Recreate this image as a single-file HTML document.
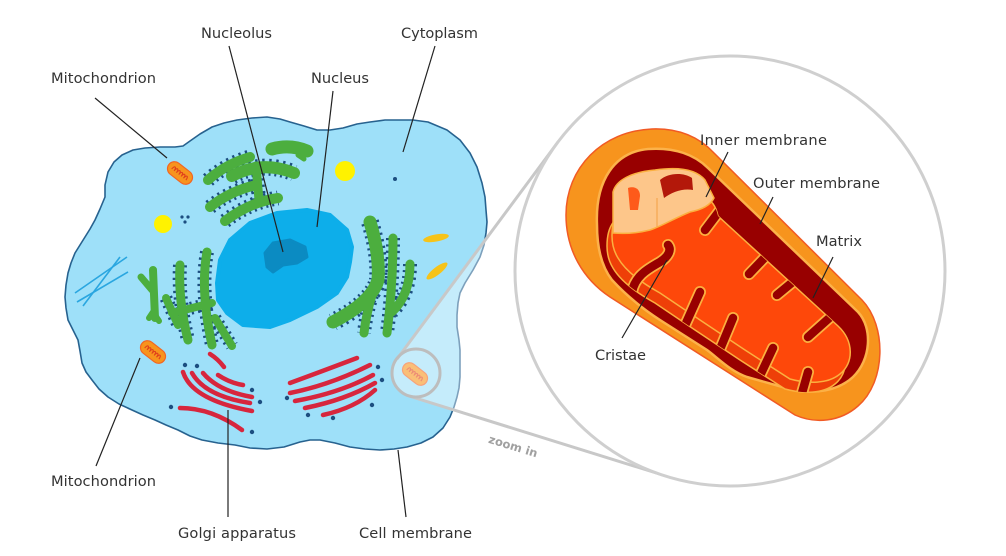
<!DOCTYPE html>
<html>
<head>
<meta charset="utf-8">
<style>
  html,body{margin:0;padding:0;background:#fff;}
  svg{display:block;}
  .lbl{font-family:"DejaVu Sans","Liberation Sans",sans-serif;font-size:14.6px;fill:#333;}
  .ln{stroke:#222;stroke-width:1.2;fill:none;}
</style>
</head>
<body>
<svg width="1006" height="556" viewBox="0 0 1006 556" xmlns="http://www.w3.org/2000/svg">
  <defs>
    <g id="sm">
      <rect x="-14" y="-7" width="28" height="14" rx="7" fill="#f7941d" stroke="#f26522" stroke-width="1.2"/>
      <path d="M-9,2 c0,-5 3,-5 3,0 c0,-5 3,-5 3,0 c0,-5 3,-5 3,0 c0,-5 3,-5 3,0 c0,-5 3,-5 3,0 c0,-5 3,-5 3,0" fill="none" stroke="#e0401c" stroke-width="1.1"/>
    </g>
    <clipPath id="mclip">
      <path transform="translate(-5,10)" d="M612,236 C612,215 620,205 640,200 L705,198 C712,200 716,207 718,216 L838,326 C854,341 854,363 840,374 C828,384 808,384 790,379 L745,350 L700,320 L660,293 C640,282 625,270 618,258 C613,250 612,243 612,236 Z"/>
      <path d="M612,236 C612,215 620,205 640,200 L705,198 C712,200 716,207 718,216 L838,326 C854,341 854,363 840,374 C828,384 808,384 790,379 L745,350 L700,320 L660,293 C640,282 625,270 618,258 C613,250 612,243 612,236 Z"/>
    </clipPath>
  </defs>

  <!-- Cell -->
  <path d="M105,197 L105,185 L108,172 L114,162 L122,155 L133,150 L145,148 L160,147 L175,147 L183,146 L190,141 L200,134 L212,127 L224,123 L237,120 L252,118 L267,117 L280,119 L290,122 L304,126 L317,130 L330,130 L343,128 L357,124 L370,122 L385,120 L400,120 L413,120 L428,122 L447,130 L460,140 L470,153 L477,167 L482,183 L485,197 L486,210 L487,222 L486,233 L484,245 L480,257 L473,270 L465,283 L460,293 L458,303 L457,315 L457,327 L459,340 L460,350 L460,363 L460,377 L459,388 L457,397 L454,407 L450,417 L443,428 L433,437 L421,443 L407,447 L394,449 L380,450 L365,449 L350,447 L335,443 L320,440 L310,440 L300,442 L284,447 L267,449 L250,448 L235,445 L218,443 L202,440 L190,436 L178,430 L166,425 L155,420 L143,415 L132,410 L119,404 L108,397 L99,389 L92,380 L86,372 L82,363 L80,351 L78,340 L73,330 L68,320 L66,308 L65,297 L66,285 L68,273 L71,263 L75,253 L80,245 L85,237 L90,229 L95,220 L100,209 Z" fill="#9ee0f9" stroke="#27628f" stroke-width="1.6" stroke-linejoin="round"/>

  <!-- Nucleus -->
  <path d="M218,300 L217,283 L220,260 L230,240 L250,223 L277,213 L307,210 L330,215 L347,230 L352,247 L350,262 L347,277 L337,293 L317,307 L290,320 L270,327 L243,325 L227,313 Z" fill="#0daeea" stroke="#0daeea" stroke-width="4" stroke-linejoin="round"/>
  <path d="M265,253 L273,243 L290,240 L305,247 L307,257 L297,263 L283,265 L273,272 L267,267 Z" fill="#0b8bc2" stroke="#0b8bc2" stroke-width="3" stroke-linejoin="round"/>

  <!-- Cytoskeleton -->
  <g stroke="#2aa6e0" stroke-width="1.6" fill="none">
    <line x1="75" y1="293" x2="127" y2="257"/>
    <line x1="77" y1="302" x2="128" y2="272"/>
    <line x1="83" y1="306" x2="120" y2="257"/>
  </g>

  <!-- Yellow vesicles -->
  <circle cx="345" cy="171" r="10" fill="#fff200"/>
  <circle cx="163" cy="224" r="9" fill="#fff200"/>
  <ellipse cx="436" cy="238" rx="13" ry="3.6" transform="rotate(-10 436 238)" fill="#f6c319"/>
  <ellipse cx="437" cy="271" rx="13" ry="3.8" transform="rotate(-38 437 271)" fill="#f6c319"/>

  <!-- small dots -->
  <g fill="#1c4e80">
    <circle cx="395" cy="179" r="2"/>
    <circle cx="182" cy="217" r="1.6"/><circle cx="188" cy="217" r="1.6"/><circle cx="185" cy="222" r="1.6"/>
  </g>

  <!-- Smooth ER -->
  <g stroke="#4cae3e" fill="none" stroke-linecap="round" stroke-linejoin="round">
    <path d="M272,149 Q290,144 307,151" stroke-width="13"/>
    <path d="M298,155 L304,159" stroke-width="5"/>
    <path d="M153,270 L155,318" stroke-width="8"/>
    <path d="M141,277 L152,290" stroke-width="7"/>
    <path d="M149,318 L153,312 L159,321" stroke-width="6"/>
  </g>

  <!-- Rough ER: dots -->
  <g stroke="#1c4e80" fill="none" stroke-dasharray="2.2 4.2">
    <path d="M208,180 Q226,164 250,157" stroke-width="15"/>
    <path d="M232,176 Q262,160 294,173" stroke-width="17"/>
    <path d="M210,207 Q232,190 257,185" stroke-width="15"/>
    <path d="M225,221 Q250,202 278,198" stroke-width="15"/>
    <path d="M256,166 L259,200" stroke-width="14"/>
    <path d="M180,265 Q178,300 188,340" stroke-width="14"/>
    <path d="M207,252 Q200,290 212,345" stroke-width="14"/>
    <path d="M166,298 L178,325" stroke-width="13"/>
    <path d="M172,313 L212,303" stroke-width="13"/>
    <path d="M215,318 L232,346" stroke-width="13"/>
    <path d="M370,222 Q380,255 378,280 Q372,302 333,322" stroke-width="18"/>
    <path d="M372,295 Q366,315 364,333" stroke-width="14"/>
    <path d="M393,238 Q393,285 387,333" stroke-width="14"/>
    <path d="M410,264 Q410,295 392,312" stroke-width="14"/>
  </g>
  <!-- Rough ER: green -->
  <g stroke="#4cae3e" fill="none" stroke-linecap="round" stroke-linejoin="round">
    <path d="M208,180 Q226,164 250,157" stroke-width="10"/>
    <path d="M232,176 Q262,160 294,173" stroke-width="12"/>
    <path d="M210,207 Q232,190 257,185" stroke-width="10"/>
    <path d="M225,221 Q250,202 278,198" stroke-width="10"/>
    <path d="M256,166 L259,200" stroke-width="9"/>
    <path d="M180,265 Q178,300 188,340" stroke-width="9"/>
    <path d="M207,252 Q200,290 212,345" stroke-width="9"/>
    <path d="M166,298 L178,325" stroke-width="8"/>
    <path d="M172,313 L212,303" stroke-width="8"/>
    <path d="M215,318 L232,346" stroke-width="8"/>
    <path d="M370,222 Q380,255 378,280 Q372,302 333,322" stroke-width="13"/>
    <path d="M372,295 Q366,315 364,333" stroke-width="9"/>
    <path d="M393,238 Q393,285 387,333" stroke-width="9"/>
    <path d="M410,264 Q410,295 392,312" stroke-width="9"/>
  </g>

  <!-- Golgi -->
  <g stroke="#d7263d" stroke-width="4.5" fill="none" stroke-linecap="round">
    <path d="M210,354 Q218,359 224,367"/>
    <path d="M183,372 Q192,400 252,411"/>
    <path d="M192,373 Q205,396 250,403"/>
    <path d="M203,373 Q218,391 252,397"/>
    <path d="M218,375 Q230,383 243,385"/>
    <path d="M180,408 Q212,408 242,430"/>
    <path d="M290,383 Q320,372 357,358"/>
    <path d="M290,393 Q330,385 370,365"/>
    <path d="M295,401 Q340,393 373,375"/>
    <path d="M305,408 Q345,400 375,383"/>
    <path d="M323,415 Q355,408 375,390"/>
  </g>
  <g fill="#1c4e80">
    <circle cx="185" cy="365" r="2.2"/><circle cx="197" cy="366" r="2.2"/>
    <circle cx="252" cy="390" r="2.2"/><circle cx="260" cy="402" r="2.2"/>
    <circle cx="252" cy="432" r="2.2"/><circle cx="171" cy="407" r="2.2"/>
    <circle cx="287" cy="398" r="2.2"/><circle cx="308" cy="415" r="2.2"/>
    <circle cx="333" cy="418" r="2.2"/><circle cx="378" cy="367" r="2.2"/>
    <circle cx="382" cy="380" r="2.2"/><circle cx="372" cy="405" r="2.2"/>
  </g>

  <!-- Small mitochondria -->
  <use href="#sm" transform="translate(180,173) rotate(38)"/>
  <use href="#sm" transform="translate(153,352) rotate(38)"/>
  <use href="#sm" transform="translate(415,374) rotate(38)"/>

  <!-- Zoom cone overlay -->
  <path d="M397,359 L558,142 L666,476 L409,396 A24,24 0 0 1 397,359 Z" fill="#fff" fill-opacity="0.4"/>
  <line x1="397" y1="359" x2="558" y2="142" stroke="#c8c8c8" stroke-width="3"/>
  <line x1="409" y1="396" x2="666" y2="476" stroke="#c8c8c8" stroke-width="3"/>
  <circle cx="416" cy="373" r="24" fill="none" stroke="#bdbdbd" stroke-width="3"/>

  <!-- Big circle -->
  <circle cx="730" cy="271" r="215" fill="#fff" stroke="#cfcfcf" stroke-width="3"/>

  <!-- Big mitochondrion -->
  <path d="M566,215 C566,168 602,131 652,129 C680,128 700,138 714,153 L862,300 C887,326 886,382 858,406 C840,422 815,424 795,415 L610,297 C583,279 566,250 566,215 Z" fill="#f7941d" stroke="#f15a24" stroke-width="1.5"/>
  <path d="M597,225 C595,180 615,152 648,149 C675,147 695,155 708,168 L858,312 C873,328 871,360 853,377 C838,391 815,394 793,390 L747,377 C730,371 718,358 707,350 L660,320 C640,307 624,293 612,280 C601,266 597,246 597,225 Z" fill="#980000" stroke="#fcb24a" stroke-width="2.5"/>
  <!-- matrix lower face -->
  <path transform="translate(-5,10)" d="M612,236 C612,215 620,205 640,200 L705,198 C712,200 716,207 718,216 L838,326 C854,341 854,363 840,374 C828,384 808,384 790,379 L745,350 L700,320 L660,293 C640,282 625,270 618,258 C613,250 612,243 612,236 Z" fill="#ee3f08" stroke="#fbb040" stroke-width="1.5"/>
  <!-- matrix top face -->
  <path d="M612,236 C612,215 620,205 640,200 L705,198 C712,200 716,207 718,216 L838,326 C854,341 854,363 840,374 C828,384 808,384 790,379 L745,350 L700,320 L660,293 C640,282 625,270 618,258 C613,250 612,243 612,236 Z" fill="#fe480a" stroke="#fbb040" stroke-width="1.5"/>
  <!-- cristae gaps -->
  <g clip-path="url(#mclip)" fill="none" stroke-linecap="round" stroke-linejoin="round">
    <g stroke="#fbb040" stroke-width="12">
      <path d="M724,205 L705,230"/>
      <path d="M772,250 L749,274"/>
      <path d="M800,276 L777,295"/>
      <path d="M836,312 L808,337"/>
      <path d="M632,292 C635,275 650,268 660,262 C668,257 672,250 668,245"/>
      <path d="M682,332 L700,292"/>
      <path d="M718,354 L733,318"/>
      <path d="M757,382 L773,348"/>
      <path d="M800,400 L808,372"/>
    </g>
    <g stroke="#980000" stroke-width="8.5">
      <path d="M724,205 L705,230"/>
      <path d="M772,250 L749,274"/>
      <path d="M800,276 L777,295"/>
      <path d="M836,312 L808,337"/>
      <path d="M632,292 C635,275 650,268 660,262 C668,257 672,250 668,245"/>
      <path d="M682,332 L700,292"/>
      <path d="M718,354 L733,318"/>
      <path d="M757,382 L773,348"/>
      <path d="M800,400 L808,372"/>
    </g>
  </g>
  <!-- peach cut section -->
  <path d="M613,233 L613,192 C616,180 632,172 655,170 C676,167 695,168 705,180 L714,198 C710,206 700,210 690,212 C675,218 662,226 650,230 C638,233 625,234 613,233 Z" fill="#fdc68a" stroke="#fbb040" stroke-width="1.5"/>
  <path d="M660,180 C668,173 683,172 692,178 L693,190 C683,188 672,192 664,198 Z" fill="#b3180a"/>
  <path d="M628,188 C634,186 640,188 640,196 L638,210 L630,210 Z" fill="#fe5a1a"/>
  <line x1="657" y1="198" x2="657" y2="227" stroke="#f5a650" stroke-width="1.2"/>

  <!-- Label lines -->
  <line class="ln" x1="95" y1="98" x2="167" y2="158"/>
  <line class="ln" x1="229" y1="46" x2="283" y2="252"/>
  <line class="ln" x1="333" y1="91" x2="317" y2="227"/>
  <line class="ln" x1="435" y1="46" x2="403" y2="152"/>
  <line class="ln" x1="140" y1="358" x2="96" y2="466"/>
  <line class="ln" x1="228" y1="410" x2="228" y2="517"/>
  <line class="ln" x1="398" y1="450" x2="406" y2="517"/>
  <line class="ln" x1="728" y1="152" x2="706" y2="197"/>
  <line class="ln" x1="773" y1="197" x2="760" y2="224"/>
  <line class="ln" x1="833" y1="257" x2="813" y2="298"/>
  <line class="ln" x1="622" y1="338" x2="667" y2="260"/>

  <!-- Labels -->
  <text class="lbl" x="51" y="83" textLength="105">Mitochondrion</text>
  <text class="lbl" x="201" y="38" textLength="71">Nucleolus</text>
  <text class="lbl" x="311" y="83" textLength="58">Nucleus</text>
  <text class="lbl" x="401" y="38" textLength="77">Cytoplasm</text>
  <text class="lbl" x="51" y="486" textLength="105">Mitochondrion</text>
  <text class="lbl" x="178" y="538" textLength="118">Golgi apparatus</text>
  <text class="lbl" x="359" y="538" textLength="113">Cell membrane</text>
  <text class="lbl" x="700" y="145" textLength="127">Inner membrane</text>
  <text class="lbl" x="753" y="188" textLength="127">Outer membrane</text>
  <text class="lbl" x="816" y="246" textLength="46">Matrix</text>
  <text class="lbl" x="595" y="360" textLength="51">Cristae</text>
  <text transform="translate(512,450) rotate(17)" text-anchor="middle" font-family="DejaVu Sans, Liberation Sans, sans-serif" font-weight="bold" font-size="11.5" fill="#a0a0a0">zoom in</text>
</svg>
</body>
</html>
